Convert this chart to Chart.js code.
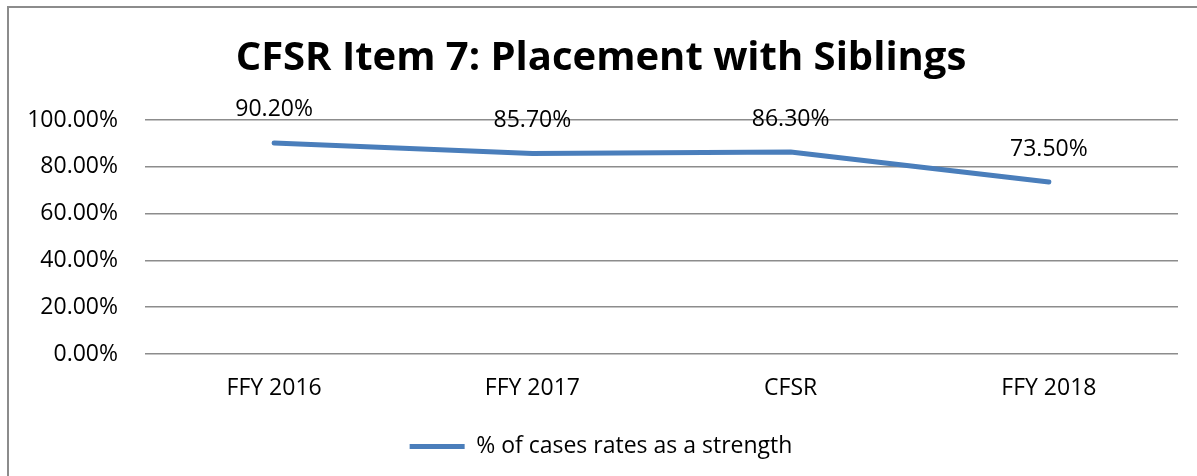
<!DOCTYPE html>
<html>
<head>
<meta charset="utf-8">
<script src="https://cdn.jsdelivr.net/npm/chart.js@4/dist/chart.umd.min.js"></script>
<style>
  html, body { margin: 0; padding: 0; background: #fff; }
  #wrap { position: relative; width: 1197px; height: 476px; overflow: hidden; }
  #frame { position: absolute; left: 7px; top: 6px; right: -10px; bottom: -10px;
           border-left: 2px solid #8c8c8c; border-top: 2px solid #8c8c8c; pointer-events: none; }
  canvas { position: absolute; left: 0; top: 0; }
</style>
</head>
<body>
<div id="wrap">
  <canvas id="c" width="1197" height="476"></canvas>
  <div id="frame"></div>
</div>
<script>
const titleText = "CFSR Item 7: Placement with Siblings";
const categories = ["FFY 2016", "FFY 2017", "CFSR", "FFY 2018"];
const seriesName = "% of cases rates as a strength";
const seriesValues = [90.2, 85.7, 86.3, 73.5];
const yTicks = [0, 20, 40, 60, 80, 100];

const FONT = "'Open Sans', 'Liberation Sans', sans-serif";

const dataLabels = {
  id: 'dataLabels',
  afterDatasetsDraw(chart) {
    const ctx = chart.ctx;
    const meta = chart.getDatasetMeta(0);
    ctx.save();
    ctx.font = "23px " + FONT;
    ctx.fillStyle = "#000";
    ctx.textAlign = "center";
    ctx.textBaseline = "middle";
    meta.data.forEach((pt, i) => {
      const v = chart.data.datasets[0].data[i];
      ctx.fillText(v.toFixed(2) + "%", pt.x, pt.y - 33);
    });
    ctx.restore();
  }
};

new Chart(document.getElementById('c'), {
  type: 'line',
  data: {
    labels: categories,
    datasets: [{
      label: seriesName,
      data: seriesValues,
      borderColor: '#4a7ebb',
      backgroundColor: '#4a7ebb',
      borderWidth: 5,
      borderCapStyle: 'round',
      borderJoinStyle: 'round',
      pointRadius: 0,
      pointHoverRadius: 0,
      tension: 0,
      fill: false
    }]
  },
  options: {
    responsive: false,
    animation: false,
    events: [],
    layout: { padding: { left: 24, right: 19, top: 0, bottom: 8 } },
    plugins: {
      title: {
        display: true,
        text: titleText,
        color: '#000',
        font: { family: FONT, size: 40, weight: 'bold', lineHeight: 1.2 },
        padding: { top: 35, bottom: 37 }
      },
      legend: {
        display: true,
        position: 'bottom',
        labels: {
          color: '#000',
          font: { family: FONT, size: 23 },
          usePointStyle: true,
          pointStyle: 'line',
          pointStyleWidth: 55,
          boxWidth: 55,
          boxHeight: 23,
          padding: 10
        }
      },
      tooltip: { enabled: false }
    },
    scales: {
      x: {
        offset: true,
        grid: { display: false, drawTicks: false, offset: true },
        border: { display: false },
        ticks: { color: '#000', font: { family: FONT, size: 23 }, padding: 21, maxRotation: 0 },
        afterFit(scale) { scale.height = 71; }
      },
      y: {
        min: 0,
        max: 100,
        afterBuildTicks(scale) { scale.ticks = yTicks.map(v => ({ value: v })); },
        grid: { color: '#8c8c8c', lineWidth: 1.5, drawTicks: false },
        border: { display: false },
        ticks: {
          color: '#000',
          font: { family: FONT, size: 23 },
          padding: 27,
          callback: (v) => Number(v).toFixed(2) + '%'
        },
        afterFit(scale) { scale.width = 121; }
      }
    }
  },
  plugins: [dataLabels]
});
</script>
</body>
</html>
